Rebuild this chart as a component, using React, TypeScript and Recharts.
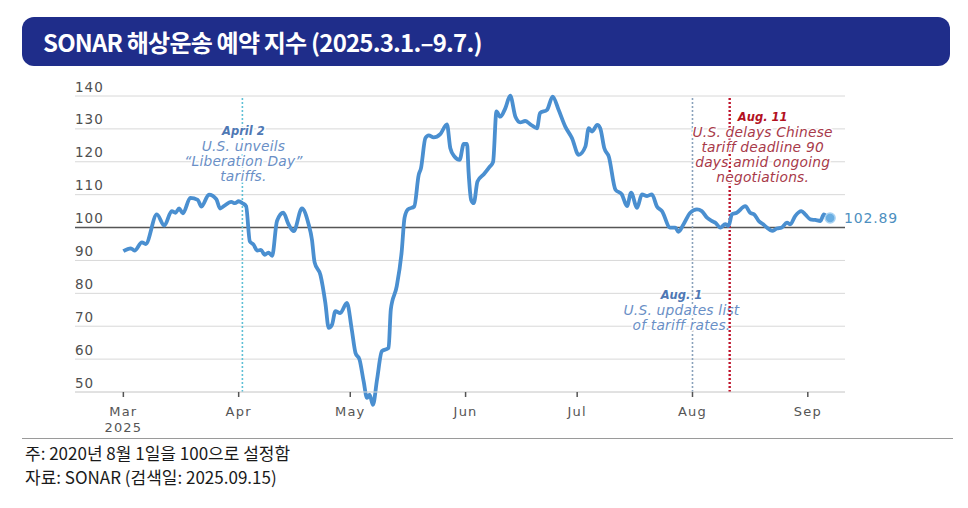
import React from "react";
import {
  LineChart,
  Line,
  XAxis,
  YAxis,
  CartesianGrid,
  ReferenceLine,
  ReferenceDot,
} from "recharts";

// Days counted from 2025-03-01 (day 0)
const dayOffsets = [
  0, 2, 3, 5, 6, 9, 11, 13, 14, 15, 16, 18, 20, 21, 23, 25, 26, 27, 29, 30,
  31, 32, 33, 34, 35, 36, 37, 38, 39, 40, 41.3, 43, 44.4, 45.8, 48, 49.8,
  50.7, 51.4, 53, 54.3, 55.2, 56.1, 57, 58.3, 60.1, 61.4, 62.4, 63.5, 64.6,
  65.5, 66.2, 67.1, 68.2, 69.5, 71.3, 71.9, 73.5, 74.8, 75.6, 76.5, 78.2,
  79.4, 80, 81.2, 82.1, 83.4, 85.2, 87, 87.9, 89, 90.4, 91.5, 92.4, 92.8,
  93.5, 94.2, 95.2, 96.9, 98.5, 99.4, 100.3, 101.3, 102.7, 104, 105.4,
  106.7, 108, 109.4, 111.2, 112, 113.9, 115.4, 117, 118.8, 120.6, 122.4,
  124.2, 125.1, 126, 127.4, 128.2, 129.3, 130.5, 132.3, 134, 135.4, 136.5,
  138.1, 139.4, 140.8, 142.1, 143.4, 144.8, 147, 148.4, 149.2, 150.6, 152.4,
  154.2, 155.5, 156.9, 158.2, 159.1, 160.5, 161.8, 162.7, 163.6, 164.9,
  167.2, 168.5, 169.6, 170.8, 172, 173, 174.4, 175.7, 177, 178.4, 179.3,
  180.6, 182.3, 183.3, 184.7, 186, 187.4, 188.3, 189.2, 190,
];

const indexValues = [
  92.8, 93.7, 93.0, 95.5, 95.0, 104.0, 100.6, 105.0, 104.5, 105.8, 104.3,
  109.0, 108.4, 106.4, 110.0, 108.6, 105.8, 106.5, 107.8, 107.4, 108.0,
  107.4, 106.5, 95.8, 94.8, 93.0, 93.2, 91.7, 92.4, 91.4, 102.0, 104.5,
  101.0, 98.9, 105.8, 101.0, 96.3, 89.5, 85.5, 77.1, 69.5, 70.5, 74.6, 74.0,
  77.1, 69.0, 61.9, 59.8, 53.2, 48.2, 49.2, 46.1, 53.8, 62.4, 63.4, 75.1,
  82.2, 92.4, 103.0, 105.5, 106.4, 116.0, 118.0, 127.2, 128.0, 127.4, 128.4,
  131.4, 124.1, 121.6, 120.6, 125.4, 125.4, 117.0, 108.4, 107.4, 114.0,
  116.2, 118.5, 120.0, 135.3, 133.7, 136.3, 140.1, 133.7, 132.0, 132.4,
  131.4, 130.2, 134.8, 135.8, 139.8, 135.8, 130.7, 127.2, 122.1, 124.6,
  130.2, 129.2, 131.2, 130.2, 124.1, 121.6, 111.5, 110.1, 106.5, 110.6,
  106.0, 110.1, 109.6, 110.1, 106.5, 105.0, 100.0, 100.0, 98.7, 101.0, 104.5,
  105.5, 105.0, 103.0, 102.0, 101.5, 100.0, 101.0, 100.5, 104.0, 104.5,
  106.5, 104.5, 104.0, 102.0, 101.0, 100.0, 99.0, 99.7, 100.0, 101.5, 101.0,
  103.5, 105.0, 104.0, 102.5, 102.3, 102.0, 104.0, 103.3, 102.89,
];

const monthTicks = [0, 31, 61, 92, 122, 153, 184];
const monthLabels = ["Mar", "Apr", "May", "Jun", "Jul", "Aug", "Sep"];
const yTicks = [50, 60, 70, 80, 90, 100, 110, 120, 130, 140];
const lastDay = 190;
const lastValue = 102.89;
const baseValue = 100;

const eventDays = [32, 153, 163];
const eventTitles = ["April 2", "Aug. 1", "Aug. 11"];
const eventTexts = [
  ["U.S. unveils", "\u201CLiberation Day\u201D", "tariffs."],
  ["U.S. updates list", "of tariff rates."],
  ["U.S. delays Chinese", "tariff deadline 90", "days amid ongoing", "negotiations."],
];

const data = dayOffsets.map((d, i) => ({ day: d, value: indexValues[i] }));

const CHART_FONT = "'DejaVu Sans', sans-serif";
const KR_FONT = "'Noto Sans CJK KR', 'Noto Sans', sans-serif";
const PLOT_LEFT = 75;

const eventStyles = [
  { line: "#5fc0d6", width: 1.6, title: "#4f78b4", body: "#6a8fc6", dx: 1, dy: 35 },
  { line: "#8aa2bb", width: 1.6, title: "#4f78b4", body: "#6a8fc6", dx: -11, dy: 199 },
  { line: "#c0142c", width: 2.4, title: "#b3111f", body: "#a83a4a", dx: 33, dy: 21 },
];

const YTick = (props: any) => {
  const { y, payload } = props;
  return (
    <text
      x={PLOT_LEFT}
      y={y - 4.5}
      textAnchor="start"
      fontFamily={CHART_FONT}
      fontSize={13.5}
      letterSpacing={1}
      fill="#4f4f4f"
    >
      {payload.value}
    </text>
  );
};

const XTick = (props: any) => {
  const { x, y, payload } = props;
  const idx = monthTicks.indexOf(payload.value);
  const label = monthLabels[idx] ?? "";
  return (
    <g>
      <text
        x={x}
        y={y + 17}
        textAnchor="middle"
        fontFamily={CHART_FONT}
        fontSize={13}
        letterSpacing={1.2}
        fill="#555555"
      >
        {label}
      </text>
      {idx === 0 && (
        <text
          x={x}
          y={y + 33}
          textAnchor="middle"
          fontFamily={CHART_FONT}
          fontSize={13}
          letterSpacing={1.2}
          fill="#555555"
        >
          2025
        </text>
      )}
    </g>
  );
};

const EventLabel = (props: any) => {
  const { viewBox, idx } = props;
  if (!viewBox) return null;
  const st = eventStyles[idx];
  const cx = viewBox.x + st.dx;
  const top = viewBox.y + st.dy;
  const common = {
    textAnchor: "middle" as const,
    fontFamily: CHART_FONT,
    fontStyle: "italic",
    stroke: "#ffffff",
    strokeWidth: 3,
    paintOrder: "stroke" as any,
  };
  return (
    <g>
      <text x={cx} y={top + 4} {...common} fontSize={11.5} fontWeight={700} fill={st.title}>
        {eventTitles[idx]}
      </text>
      {eventTexts[idx].map((t, i) => (
        <text
          key={i}
          x={cx}
          y={top + 19.5 + i * 15}
          {...common}
          fontSize={13.8}
          letterSpacing={0.2}
          fill={st.body}
        >
          {t}
        </text>
      ))}
    </g>
  );
};

export default function App() {
  return (
    <div
      style={{
        position: "absolute",
        left: 0,
        top: 0,
        width: 968,
        height: 508,
        background: "#ffffff",
        overflow: "hidden",
      }}
    >
      <style>{`.recharts-wrapper [clip-path] { clip-path: none !important; }`}</style>
      <div
        style={{
          position: "absolute",
          left: 22,
          top: 17,
          width: 928,
          height: 49,
          background: "#1f2d8a",
          borderRadius: 12,
          boxSizing: "border-box",
          paddingLeft: 21,
          paddingTop: 2,
          color: "#ffffff",
          fontFamily: KR_FONT,
          fontWeight: 700,
          fontSize: 24,
          lineHeight: "46px",
          letterSpacing: -0.8,
          whiteSpace: "nowrap",
        }}
      >
        SONAR 해상운송 예약 지수 (2025.3.1.–9.7.)
      </div>

      <div style={{ position: "absolute", left: 0, top: 0 }}>
        <LineChart
          width={968}
          height={508}
          data={data}
          margin={{ top: 96, right: 123, bottom: 86, left: PLOT_LEFT - 40 }}
        >
          <CartesianGrid vertical={false} stroke="#d8d8d8" strokeWidth={1} />
          <XAxis
            type="number"
            dataKey="day"
            domain={[-13, 194]}
            ticks={monthTicks}
            axisLine={{ stroke: "#d8d8d8" }}
            tickLine={{ stroke: "#555555", strokeWidth: 1.5 }}
            tickSize={5}
            height={30}
            tick={<XTick />}
            interval={0}
          />
          <YAxis
            type="number"
            domain={[50, 140]}
            allowDataOverflow
            ticks={yTicks}
            width={40}
            axisLine={false}
            tickLine={false}
            tick={<YTick />}
            interval={0}
          />
          <ReferenceLine y={baseValue} stroke="#555555" strokeWidth={1.6} />
          {eventDays.map((d, i) => (
            <ReferenceLine
              key={i}
              x={d}
              stroke={eventStyles[i].line}
              strokeWidth={eventStyles[i].width}
              strokeDasharray="2 2"
              label={<EventLabel idx={i} />}
            />
          ))}
          <Line
            type="monotone"
            dataKey="value"
            stroke="#4a8fd0"
            strokeWidth={3.8}
            dot={false}
            isAnimationActive={false}
          />
          <ReferenceDot
            x={lastDay}
            y={lastValue}
            r={5}
            fill="#6aaee2"
            stroke="#a8d2f2"
            strokeWidth={1.5}
            label={{
              value: lastValue.toFixed(2),
              position: "right",
              offset: 9,
              fill: "#4d8fc0",
              fontSize: 14,
              fontFamily: CHART_FONT,
              letterSpacing: 0.8,
            }}
          />
        </LineChart>
      </div>

      <div
        style={{
          position: "absolute",
          left: 22,
          top: 438,
          width: 931,
          height: 0,
          borderTop: "1.5px solid #9a9a9a",
        }}
      />
      <div
        style={{
          position: "absolute",
          left: 25,
          top: 441,
          fontFamily: KR_FONT,
          fontSize: 17,
          lineHeight: "24px",
          color: "#1a1a1a",
          letterSpacing: 0,
          whiteSpace: "nowrap",
        }}
      >
        <div>주: 2020년 8월 1일을 100으로 설정함</div>
        <div>자료: SONAR (검색일: 2025.09.15)</div>
      </div>
    </div>
  );
}
